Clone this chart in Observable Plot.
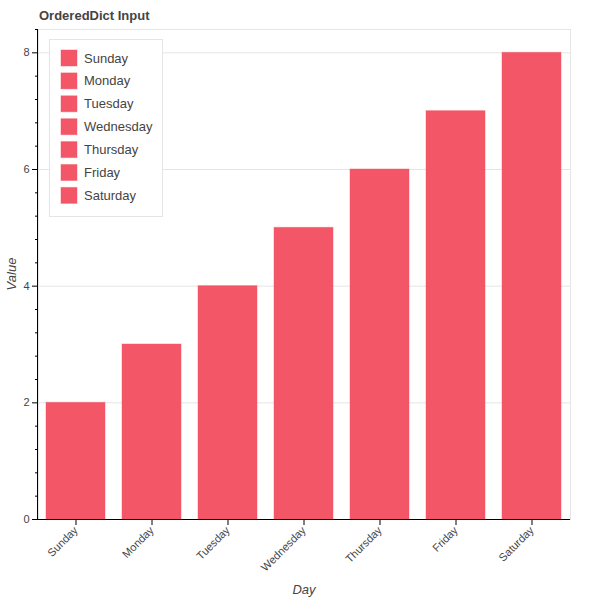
<!DOCTYPE html>
<html>
<head>
<meta charset="utf-8">
<script src="https://cdn.jsdelivr.net/npm/d3@7"></script>
<script src="https://cdn.jsdelivr.net/npm/@observablehq/plot@0.6"></script>
<style>
  html, body { margin: 0; padding: 0; background: white; }
  #chart { width: 600px; height: 600px; }
</style>
</head>
<body>
<div id="chart"></div>
<script>
const days = ["Sunday", "Monday", "Tuesday", "Wednesday", "Thursday", "Friday", "Saturday"];
const values = [2, 3, 4, 5, 6, 7, 8];
const majorTicks = [0, 2, 4, 6, 8];
const minorTicks = [0.4, 0.8, 1.2, 1.6, 2.4, 2.8, 3.2, 3.6, 4.4, 4.8, 5.2, 5.6, 6.4, 6.8, 7.2, 7.6, 8.4];
const title = "OrderedDict Input";
const xLabel = "Day";
const yLabel = "Value";
const barColor = "#f35666";

const data = days.map((d, i) => ({ day: d, value: values[i] }));
const font = "'Liberation Sans', Arial, Helvetica, sans-serif";
const W = 600, H = 600;
const mL = 38, mR = 30, mT = 29, mB = 81;

const chart = Plot.plot({
  width: W, height: H,
  marginTop: mT, marginRight: mR, marginBottom: mB, marginLeft: mL,
  style: { fontFamily: font, fontSize: "11px", color: "#444", background: "white" },
  x: { domain: days, paddingInner: 0.22, paddingOuter: 0.11, label: null, axis: null },
  y: { domain: [0, 8.4], label: null, axis: null },
  marks: [
    Plot.gridY([2, 4, 6, 8], { stroke: "#e5e5e5", strokeOpacity: 1 }),
    Plot.frame({ stroke: "#e5e5e5" }),
    Plot.barY(data, { x: "day", y: "value", fill: barColor, stroke: barColor, strokeOpacity: 0.45 }),
    Plot.axisY({ ticks: majorTicks, tickSize: 6, tickPadding: 3, label: null, stroke: "black", fill: "#444" }),
    Plot.axisY({ ticks: minorTicks.filter(t => t <= 8.4), tickSize: 3, text: null, label: null, stroke: "black" }),
    Plot.axisX({ tickSize: 6, tickRotate: -45, tickPadding: 3, label: null, stroke: "black", fill: "#444" })
  ]
});

document.getElementById("chart").appendChild(chart);
const svg = d3.select(chart);

// axis lines
svg.append("line").attr("x1", mL).attr("x2", W - mR).attr("y1", H - mB + 0.5).attr("y2", H - mB + 0.5)
  .attr("stroke", "black").attr("stroke-width", 1);
svg.append("line").attr("x1", mL - 0.5).attr("x2", mL - 0.5).attr("y1", mT).attr("y2", H - mB + 1)
  .attr("stroke", "black").attr("stroke-width", 1);

// title
svg.append("text").attr("x", 39).attr("y", 20).attr("text-anchor", "start").text(title)
  .attr("font-family", font).attr("font-size", "13px").attr("font-weight", "bold").attr("fill", "#444");

// axis labels
svg.append("text").attr("x", (mL + W - mR) / 2).attr("y", 594).attr("text-anchor", "middle").text(xLabel)
  .attr("font-family", font).attr("font-size", "13px").attr("font-style", "italic").attr("fill", "#444");
svg.append("text").attr("transform", `translate(16,${(mT + H - mB) / 2}) rotate(-90)`).attr("text-anchor", "middle").text(yLabel)
  .attr("font-family", font).attr("font-size", "13px").attr("font-style", "italic").attr("fill", "#444");

// legend
const lg = svg.append("g").attr("text-anchor", "start");
lg.append("rect").attr("x", 49.5).attr("y", 39.5).attr("width", 113).attr("height", 177)
  .attr("fill", "white").attr("stroke", "#e5e5e5");
days.forEach((d, i) => {
  const cy = 58 + i * 22.9;
  lg.append("rect").attr("x", 61).attr("y", cy - 8).attr("width", 16).attr("height", 16)
    .attr("fill", barColor).attr("stroke", barColor).attr("stroke-opacity", 0.45);
  lg.append("text").attr("x", 84).attr("y", cy).attr("dy", "0.35em").attr("text-anchor", "start").text(d)
    .attr("font-family", font).attr("font-size", "13px").attr("fill", "#444");
});
</script>
</body>
</html>
